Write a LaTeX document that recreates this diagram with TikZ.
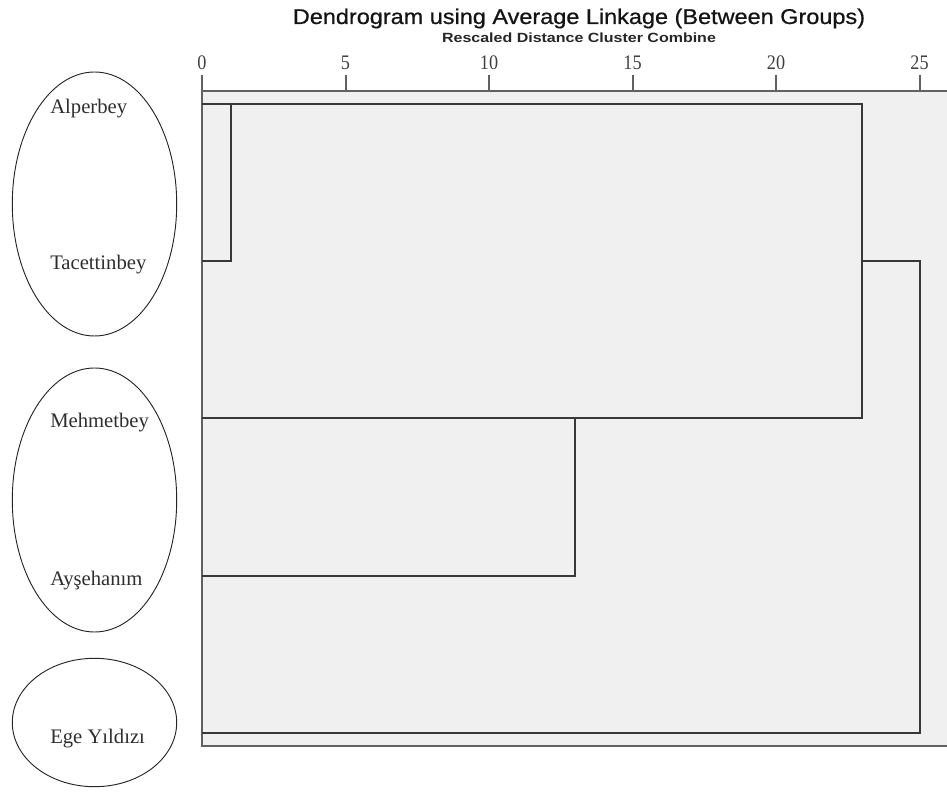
\documentclass[tikz,border=0pt]{standalone}
\usepackage{fontspec}
\setmainfont{Liberation Serif}
\newfontfamily\headfont[FakeBold=0.7]{Liberation Sans}
\newfontfamily\subheadfont{Liberation Sans}
\usetikzlibrary{shapes.geometric}

\begin{document}
\begin{tikzpicture}[x=0.75pt, y=-0.75pt,
        link/.style={draw=black!78, line width=1.5pt},
        axisline/.style={draw=black!62, line width=1.5pt},
        group/.style={ellipse, draw=black!85, line width=0.7pt, minimum width=123.3pt, inner sep=0pt},
        leaf/.style={anchor=base west, inner sep=0pt, text=black!82, font=\fontsize{15.5}{18}\selectfont}]
    \useasboundingbox (0, 0) rectangle (947, 798);

    \fill[black!6] (202, 91) rectangle (947, 746);

    \node[anchor=base, xscale=1.1, text=black!92, font=\headfont\fontsize{16}{19}\selectfont] (title) at (579, 24) {Dendrogram using Average Linkage (Between Groups)};
    \node[anchor=base, xscale=1.2, text=black!85, font=\subheadfont\bfseries\fontsize{10}{12}\selectfont] (subtitle) at (579, 42.5) {Rescaled Distance Cluster Combine};

    % scale
    \foreach \d in {0, 5, ..., 25} {
        \draw[axisline] (202 + 28.7*\d, 75) -- (202 + 28.7*\d, 91);
        \node[anchor=base, inner sep=0pt, xscale=0.88, text=black!75, font=\fontsize{15.5}{18}\selectfont] (tick\d) at (202 + 28.7*\d, 70) {\d};
    }
    \draw[axisline] (202, 75) -- (202, 746) -- (947, 746);
    \draw[axisline] (202, 91) -- (947, 91);

    % groups
    \node[group, minimum height=198pt] (grpA) at (94.5, 204) {};
    \node[group, minimum height=198pt] (grpB) at (94.5, 500) {};
    \node[group, minimum height=96.3pt] (grpC) at (94.5, 722.5) {};

    \node[leaf] (alplab) at (50, 114) {Alperbey};
    \node[leaf] (taclab) at (50, 270) {Tacettinbey};
    \node[leaf] (mehlab) at (50, 428) {Mehmetbey};
    \node[leaf] (ayslab) at (50, 586) {Ayşehanım};
    \node[leaf] (egelab) at (50, 743) {Ege Yıldızı};

    % tree
    \coordinate (alp) at (202, 104);
    \coordinate (tac) at (202, 261);
    \coordinate (meh) at (202, 418);
    \coordinate (ays) at (202, 576);
    \coordinate (ege) at (202, 733);
    \coordinate (j1) at (230.7, 261);
    \coordinate (j13) at (575, 576);
    \coordinate (j23) at (862, 418);
    \coordinate (j25) at (919.5, 733);

    \draw[link] (alp) -- (alp -| j23) -- (j23) -- (meh);
    \draw[link] (tac) -- (j1) -- (j1 |- alp);
    \draw[link] (ays) -- (j13) -- (j13 |- meh);
    \draw[link] (ege) -- (j25) -- (j25 |- tac) -- (tac -| j23);
\end{tikzpicture}
\end{document}
